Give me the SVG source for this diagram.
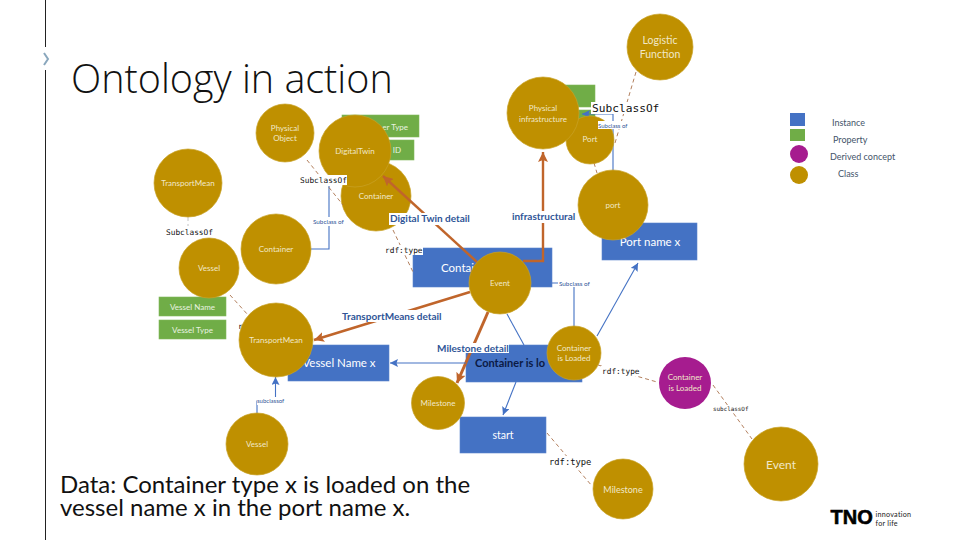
<svg xmlns="http://www.w3.org/2000/svg" width="960" height="540" viewBox="0 0 960 540">
<defs>
<marker id="ao" markerUnits="userSpaceOnUse" markerWidth="11" markerHeight="10" refX="10" refY="5" orient="auto"><path d="M0 0L10 5L0 10L2 5Z" fill="#C0652B"/></marker>
<marker id="ab" markerUnits="userSpaceOnUse" markerWidth="9" markerHeight="8" refX="8" refY="4" orient="auto"><path d="M0 0L8 4L0 8L1.5 4Z" fill="#4472C4"/></marker>
</defs>
<style>
text{font-family:"Lato","Liberation Sans",sans-serif}
.c{fill:#BF9000;stroke:#C9A227;stroke-width:.7}
.b{fill:#4472C4;stroke:#5B84CC;stroke-width:.6}
.g{fill:#70AD47;stroke:#82B85D;stroke-width:.6}
.w{fill:#fff}
.t{fill:#F1E8C8;font-size:8px;text-anchor:middle}
.rt{fill:#fff;font-size:11.5px;text-anchor:middle}
.gt{fill:#E9F3E1;font-size:8px;text-anchor:middle}
.o{fill:none;stroke:#C0652B;stroke-width:2.4;marker-end:url(#ao)}
.l{fill:none;stroke:#4472C4;stroke-width:1.1}
.la{fill:none;stroke:#4472C4;stroke-width:1.1;marker-end:url(#ab)}
.d{fill:none;stroke:#A9714B;stroke-width:.9;stroke-dasharray:4 3}
.m{font-family:"DejaVu Sans Mono","Liberation Mono",monospace;fill:#111;font-size:7.8px}
.s{fill:#2F5597;font-size:6.3px}
.h{fill:#2F5597;font-size:10px;font-weight:700}
.k{fill:#44546A;font-size:9px}
.big{fill:#111;font-family:"Open Sans","Noto Sans",sans-serif}
</style>

<g id="frame"><path d="M45.500 0V47M45.500 70V540" stroke="#222" stroke-width="1" fill="none"/><path d="M44 53L48 59L44 65" stroke="#8AA7BD" stroke-width="2" fill="none"/></g>
<text id="title" class="big" x="71" y="93" font-size="39.500" font-weight="300">Ontology in action</text>
<g id="caption" class="big" font-size="24"><text x="60" y="493">Data: Container type x is loaded on the</text><text x="60" y="516">vessel name x in the port name x.</text></g>

<g id="n-container-type"><rect class="g" x="342" y="115" width="77" height="22"/><text class="gt" x="408" y="130" style="text-anchor:end">er Type</text></g>
<g id="n-container-id"><rect class="g" x="342" y="140" width="72" height="20"/><text class="gt" x="401" y="153" style="text-anchor:end">ID</text></g>
<g id="n-port-prop-1"><rect class="g" x="560" y="85" width="35" height="22"/></g>
<g id="n-port-prop-2"><rect class="g" x="560" y="110" width="35" height="21"/><text class="gt" x="590" y="123" style="text-anchor:end">vel</text></g>
<g id="n-vessel-name-prop"><rect class="g" x="159" y="297" width="67" height="19"/><text class="gt" x="192.500" y="309.500">Vessel Name</text></g>
<g id="n-vessel-type-prop"><rect class="g" x="159" y="320" width="67" height="19"/><text class="gt" x="192.500" y="332.500">Vessel Type</text></g>
<g id="n-container-x"><rect class="b" x="413" y="248" width="139" height="39"/><text class="rt" x="441" y="271.500" style="text-anchor:start">Contai</text></g>
<g id="n-port-name-x"><rect class="b" x="602" y="223" width="95" height="37"/><text class="rt" x="650" y="246">Port name x</text></g>
<g id="n-vessel-name-x"><rect class="b" x="288" y="345" width="101" height="36"/><text class="rt" x="339" y="367">Vessel Name x</text></g>
<g id="n-container-is-loaded"><rect class="b" x="466" y="345" width="116" height="37"/><text x="475" y="367" font-size="11" font-weight="700" fill="#0B1A45">Container is lo</text></g>
<g id="n-start"><rect class="b" x="460" y="417" width="86" height="36"/><text class="rt" x="503" y="439" style="font-size:10.500px">start</text></g>
<g id="n-container-top"><circle class="c" cx="376" cy="196" r="35"/><text class="t" x="376" y="199">Container</text></g>

<g id="connectors">
<path class="o" d="M477 262L383 176"/>
<path class="o" d="M523 261H543V152"/>
<path class="o" d="M470 292L314 340"/>
<path class="o" style="stroke-width:3" d="M488 312L457 383"/>
<path class="l" d="M311 249H329V186"/>
<path class="la" d="M257 413V401H275.500V377"/>
<path class="la" d="M466 363H390"/>
<path class="l" d="M507 314L524 345"/>
<path class="la" d="M516 382L503 415"/>
<path class="la" d="M597 336L638 263"/>
<path class="l" d="M574 327V283H552"/>
<path class="la" d="M613 170V114H582"/>
<path class="d" d="M307 160L343 205"/>
<path class="d" style="stroke:#bbb" d="M188 217V238"/>
<path class="d" d="M393 230L413 272"/>
<path class="d" d="M230 295L248 315"/>
<path class="d" d="M636 72L615 143"/>
<path class="d" d="M594 163L597 173"/>
<path class="d" d="M598 365L657 382"/>
<path class="d" d="M713 385L752 439"/>
<path class="d" d="M547 433L592 486"/>
</g>

<text class="m" x="238" y="329">r</text>

<g id="n-physical-object"><circle class="c" cx="285" cy="133" r="29"/><text class="t" x="285" y="131">Physical</text><text class="t" x="285" y="141">Object</text></g>
<g id="n-digital-twin"><circle class="c" cx="355" cy="151" r="36"/><text class="t" x="355" y="154">DigitalTwin</text></g>
<g id="n-transport-means-1"><circle class="c" cx="188" cy="183" r="34"/><text class="t" x="188" y="186">TransportMean</text></g>
<g id="n-container-left"><circle class="c" cx="276" cy="249" r="35"/><text class="t" x="276" y="252">Container</text></g>
<g id="n-vessel-1"><circle class="c" cx="209" cy="268" r="30"/><text class="t" x="209" y="271">Vessel</text></g>
<g id="n-transport-means-2"><circle class="c" cx="276" cy="340" r="37"/><text class="t" x="276" y="343">TransportMean</text></g>
<g id="n-vessel-2"><circle class="c" cx="257" cy="444" r="31"/><text class="t" x="257" y="447">Vessel</text></g>
<g id="n-milestone-1"><circle class="c" cx="438" cy="403" r="26.500"/><text class="t" x="438" y="406">Milestone</text></g>
<g id="n-event-1"><circle class="c" cx="500" cy="283" r="31"/><text class="t" x="500" y="286">Event</text></g>
<g id="n-container-loaded-class"><circle class="c" cx="574" cy="353" r="27"/><text class="t" x="574" y="351">Container</text><text class="t" x="574" y="361">is Loaded</text></g>
<g id="n-container-loaded-derived"><circle cx="685" cy="383" r="26" fill="#A61C8F"/><text class="t" x="685" y="380">Container</text><text class="t" x="685" y="391">is Loaded</text></g>
<g id="n-port-class"><circle class="c" cx="590" cy="140" r="24"/><text class="t" x="590" y="142">Port</text></g>
<g id="n-physical-infrastructure"><circle class="c" cx="543" cy="113" r="36"/><text class="t" x="543" y="111">Physical</text><text class="t" x="543" y="122">infrastructure</text></g>
<g id="n-port-2"><circle class="c" cx="613" cy="205" r="35"/><text class="t" x="613" y="208">port</text></g>
<g id="n-logistic-function"><circle class="c" cx="660" cy="47" r="33"/><text class="t" x="660" y="44" style="font-size:10.500px">Logistic</text><text class="t" x="660" y="58" style="font-size:10.500px">Function</text></g>
<g id="n-event-2"><circle class="c" cx="781" cy="464" r="37"/><text class="t" x="781" y="469" style="font-size:12px">Event</text></g>
<g id="n-milestone-2"><circle class="c" cx="623" cy="489" r="30"/><text class="t" x="623" y="493" style="font-size:9px">Milestone</text></g>

<g id="labels">
<rect class="w" x="299" y="175" width="48" height="10"/><text class="m" x="300" y="183">SubclassOf</text>
<rect class="w" x="165" y="226" width="47" height="10"/><text class="m" x="166" y="234.500">SubclassOf</text>
<rect class="w" x="312" y="217" width="34" height="9"/><text class="s" x="313" y="224">Subclass of</text>
<rect class="w" x="384" y="245" width="39" height="10"/><text class="m" x="385" y="253">rdf:type</text>
<rect class="w" x="389" y="213" width="81" height="12"/><text class="h" x="390" y="222">Digital Twin detail</text>
<rect class="w" x="511" y="211" width="65" height="12"/><text class="h" x="512" y="220">infrastructural</text>
<rect class="w" x="341" y="310" width="102" height="12"/><text class="h" x="342" y="319.500">TransportMeans detail</text>
<rect class="w" x="437" y="343" width="72" height="10"/><text class="h" x="437" y="351.500">Milestone detail</text>
<rect class="w" x="601" y="366" width="40" height="10"/><text class="m" x="602" y="374">rdf:type</text>
<rect class="w" x="548" y="456" width="45" height="11"/><text class="m" x="549" y="465" style="font-size:8.800px">rdf:type</text>
<rect class="w" x="712" y="405" width="37" height="8"/><text class="m" x="713" y="411" style="font-size:5.900px">subclassOf</text>
<rect class="w" x="591" y="102" width="69" height="12"/><text class="m" x="592" y="112" style="font-size:11.200px">SubclassOf</text>
<rect class="w" x="598" y="121" width="31" height="8"/><text class="s" x="598" y="127.500" style="font-size:6px">Subclass of</text>
<rect class="w" x="257" y="397" width="31" height="8"/><text class="s" x="257" y="403" style="font-size:6px">subclassof</text>
<rect class="w" x="558" y="279" width="33" height="8"/><text class="s" x="559" y="285.500">Subclass of</text>
</g>

<g id="legend">
<rect x="790" y="113" width="15" height="13" fill="#4472C4"/><rect x="790" y="129" width="15" height="12" fill="#70AD47"/><circle cx="799" cy="154" r="9" fill="#A61C8F"/><circle cx="799" cy="175" r="9" fill="#BF9000"/>
<text class="k" x="832" y="126">Instance</text><text class="k" x="833" y="142.500">Property</text><text class="k" x="830" y="159.500">Derived concept</text><text class="k" x="838" y="177">Class</text>
</g>

<g id="logo"><text x="830.500" y="524" font-size="20" font-weight="700" fill="#000" stroke="#000" stroke-width=".6" style="font-family:'Liberation Sans',sans-serif">TNO</text><text x="875.500" y="516.500" font-size="7.200" letter-spacing=".25" fill="#222">innovation</text><text x="875.500" y="525.500" font-size="7.200" letter-spacing=".25" fill="#222">for life</text></g>
</svg>
